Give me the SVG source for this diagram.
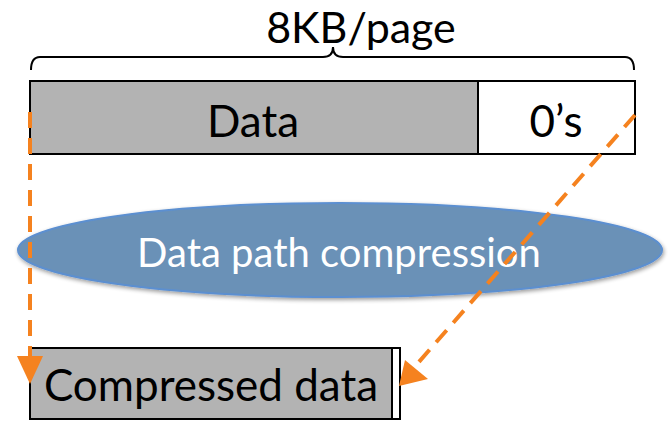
<svg xmlns="http://www.w3.org/2000/svg" width="669" height="423" viewBox="0 0 669 423">
<defs>
<style>
.t{font-family:Lato,"Open Sans",sans-serif;fill:#000}
.box{stroke:#000;stroke-width:2}
.dash{stroke:#f5821f;stroke-width:4;stroke-dasharray:16 10;fill:none}
.head{fill:#f5821f}
</style>
<filter id="sh" x="-10%" y="-30%" width="120%" height="160%">
<feGaussianBlur in="SourceAlpha" stdDeviation="2"/>
<feOffset dx="1" dy="2"/>
<feComponentTransfer><feFuncA type="linear" slope="0.4"/></feComponentTransfer>
<feMerge><feMergeNode/><feMergeNode in="SourceGraphic"/></feMerge>
</filter>
</defs>
<rect width="669" height="423" fill="#fff"/>
<g id="page">
<text class="t" x="361" y="43" font-size="43" text-anchor="middle">8KB/page</text>
<path d="M31,70 Q31,57 40,57 L323,57 Q333,57 333,47 Q333,57 343,57 L625,57 Q634,57 634,70" fill="none" stroke="#000" stroke-width="2"/>
</g>
<g id="data">
<rect class="box" x="30" y="81" width="448" height="73" fill="#b3b3b3"/>
<text class="t" x="253" y="137" font-size="44" text-anchor="middle">Data</text>
</g>
<g id="zeros">
<rect class="box" x="478" y="81" width="157" height="73" fill="#fff"/>
<text class="t" x="556" y="137" font-size="44" text-anchor="middle">0’s</text>
</g>
<g id="compression">
<ellipse cx="340" cy="250" rx="322" ry="47" fill="#6b91b7" stroke="#5b8fd0" stroke-width="2" filter="url(#sh)"/>
<text x="339" y="267" font-family="Lato,'Open Sans',sans-serif" font-size="40" fill="#fff" text-anchor="middle">Data path compression</text>
</g>
<g id="compressed">
<rect class="box" x="30" y="348" width="362" height="71" fill="#b3b3b3"/>
<rect class="box" x="392" y="348" width="8" height="71" fill="#fff"/>
<text class="t" x="211" y="401" font-size="44" text-anchor="middle">Compressed data</text>
</g>
<g id="connectors">
<line class="dash" x1="30" y1="112" x2="30" y2="358"/>
<path class="head" d="M17,356 L43,356 L30,384 z"/>
<line class="dash" x1="635" y1="115" x2="418" y2="363"/>
<path class="head" d="M405,360 L428,379 L399,386 z"/>
</g>
</svg>
